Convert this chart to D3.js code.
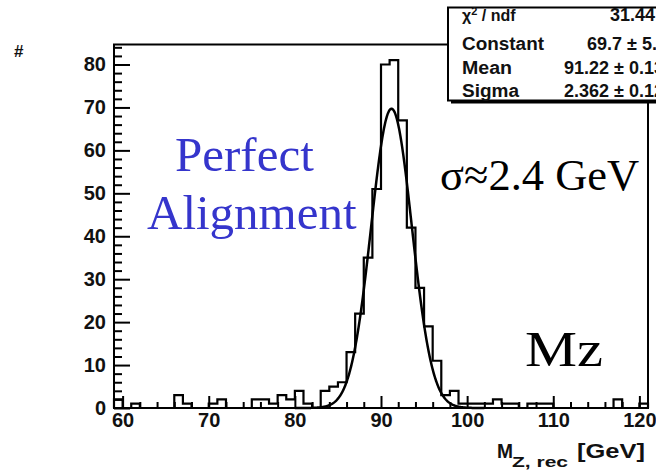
<!DOCTYPE html>
<html>
<head>
<meta charset="utf-8">
<script src="https://cdn.jsdelivr.net/npm/d3@7"></script>
<style>
  html, body { margin: 0; padding: 0; background: #fff; overflow: hidden; }
  svg { display: block; }
</style>
</head>
<body>
<svg id="chart" width="656" height="472"></svg>
<script>
// Reconstructed Z mass, 1 GeV bins starting at 59 GeV
const binStart = 59;
const binWidth = 1;
const counts = [
  2, 0, 1, 0, 0, 0, 0, 3, 1, 0,      // 59-68
  0, 1, 2, 0, 0, 0, 2, 2, 1, 3,      // 69-78
  2, 4, 1, 0, 4, 5, 6, 13, 22, 35,   // 79-88
  51, 80, 81, 67, 42, 28, 19, 11, 3, 4, // 89-98
  1, 1, 1, 1, 2, 1, 1, 0, 1, 1,      // 99-108
  1, 0, 0, 0, 0, 0, 0, 0, 2, 0,      // 109-118
  0, 1                               // 119-120
];

// Gaussian fit results
const fitConstant = 69.7;
const fitMean = 91.22;
const fitSigma = 2.362;
const fitRange = [80, 102];

// Axis ranges and tick labels
const xDomain = [59, 121];
const yDomain = [0, 84.66];
const xMajorTicks = [60, 70, 80, 90, 100, 110, 120];
const xMinorTicks = d3.range(60, 121, 2).filter(v => v % 10 !== 0);
const yMajorTicks = [0, 10, 20, 30, 40, 50, 60, 70, 80];
const yMinorTicks = d3.range(0, 85, 2).filter(v => v % 10 !== 0);

// Statistics box rows
const statNames = ["Constant", "Mean", "Sigma"];
const statValues = ["69.7 \u00b1 5.3", "91.22 \u00b1 0.13", "2.362 \u00b1 0.12"];
const chi2Value = "31.44 / 29";

const sans = "'Liberation Sans', Arial, Helvetica, sans-serif";
const serif = "'Liberation Serif', 'Times New Roman', Times, serif";

const svg = d3.select("#chart");
svg.append("rect").attr("width", 656).attr("height", 472).attr("fill", "#fff");

const frame = { left: 114, right: 648, top: 44.5, bottom: 408 };
const x = d3.scaleLinear().domain(xDomain).range([frame.left, frame.right]);
const y = d3.scaleLinear().domain(yDomain).range([frame.bottom, frame.top]);

// Histogram outline
const pts = [[binStart, 0]];
counts.forEach((c, i) => {
  const lo = binStart + i * binWidth;
  pts.push([lo, c], [lo + binWidth, c]);
});
pts.push([binStart + counts.length * binWidth, 0]);
const line = d3.line().x(d => x(d[0])).y(d => y(d[1]));
svg.append("path")
  .attr("d", line(pts))
  .attr("fill", "none")
  .attr("stroke", "#000")
  .attr("stroke-width", 2.2)
  .attr("stroke-linejoin", "miter");

// Fitted Gaussian
const gauss = v => fitConstant * Math.exp(-0.5 * Math.pow((v - fitMean) / fitSigma, 2));
const fitPts = d3.range(fitRange[0], fitRange[1] + 0.001, 0.05).map(v => [v, gauss(v)]);
svg.append("path")
  .attr("d", d3.line().x(d => x(d[0])).y(d => y(d[1])).curve(d3.curveLinear)(fitPts))
  .attr("fill", "none")
  .attr("stroke", "#000")
  .attr("stroke-width", 2.5);

// Frame
svg.append("rect")
  .attr("x", frame.left).attr("y", frame.top)
  .attr("width", frame.right - frame.left).attr("height", frame.bottom - frame.top)
  .attr("fill", "none").attr("stroke", "#000").attr("stroke-width", 2);

// Axes with inward ticks
function styleAxis(g) {
  g.select(".domain").remove();
  g.selectAll(".tick line").attr("stroke", "#000").attr("stroke-width", 2);
  g.selectAll(".tick text")
    .attr("fill", "#111")
    .style("font-family", sans)
    .style("font-size", "20px")
    .style("font-weight", "bold");
}

svg.append("g")
  .attr("transform", `translate(0,${frame.bottom})`)
  .call(d3.axisBottom(x).tickValues(xMinorTicks).tickSize(-6).tickFormat(""))
  .call(styleAxis);
svg.append("g")
  .attr("transform", `translate(0,${frame.bottom})`)
  .call(d3.axisBottom(x).tickValues(xMajorTicks).tickSize(-12).tickPadding(5).tickFormat(d3.format("d")))
  .call(styleAxis);

svg.append("g")
  .attr("transform", `translate(${frame.left},0)`)
  .call(d3.axisLeft(y).tickValues(yMinorTicks).tickSize(-8).tickFormat(""))
  .call(styleAxis);
svg.append("g")
  .attr("transform", `translate(${frame.left},0)`)
  .call(d3.axisLeft(y).tickValues(yMajorTicks).tickSize(-16).tickPadding(8).tickFormat(d3.format("d")))
  .call(styleAxis);

// Axis titles
svg.append("text")
  .attr("x", 14).attr("y", 57)
  .style("font-family", sans).style("font-size", "17px").style("font-weight", "bold")
  .attr("fill", "#111").text("#");

const xt = svg.append("g").style("font-family", sans).style("font-weight", "bold").attr("fill", "#111");
xt.append("text").attr("x", 497).attr("y", 458).style("font-size", "21px")
  .attr("textLength", 16).attr("lengthAdjust", "spacingAndGlyphs").text("M");
xt.append("text").attr("x", 512).attr("y", 467).style("font-size", "14px")
  .attr("textLength", 56).attr("lengthAdjust", "spacingAndGlyphs").text("Z, rec");
xt.append("text").attr("x", 577).attr("y", 458).style("font-size", "21px")
  .attr("textLength", 68).attr("lengthAdjust", "spacingAndGlyphs").text("[GeV]");

// Annotations
svg.append("text").attr("x", 175).attr("y", 171)
  .style("font-family", serif).style("font-size", "49px").attr("fill", "#3535cc")
  .text("Perfect");
svg.append("text").attr("x", 147).attr("y", 229)
  .style("font-family", serif).style("font-size", "49px").attr("fill", "#3535cc")
  .text("Alignment");
svg.append("text").attr("x", 440).attr("y", 190)
  .style("font-family", serif).style("font-size", "44.5px").attr("fill", "#000")
  .text("\u03c3\u22482.4 GeV");
svg.append("text").attr("x", 525).attr("y", 366)
  .style("font-family", serif).style("font-size", "50px").attr("fill", "#000")
  .attr("textLength", 78).attr("lengthAdjust", "spacingAndGlyphs")
  .text("Mz");

// Statistics box with drop shadow
const box = { x: 448, y: 7.5, w: 230, h: 93 };
svg.append("rect").attr("x", box.x + 3).attr("y", box.y + 3)
  .attr("width", box.w).attr("height", box.h).attr("fill", "#000");
svg.append("rect").attr("x", box.x).attr("y", box.y)
  .attr("width", box.w).attr("height", box.h)
  .attr("fill", "#fff").attr("stroke", "#000").attr("stroke-width", 2);

const st = svg.append("g").style("font-family", sans).style("font-weight", "bold").attr("fill", "#111");
const chi = st.append("text").attr("x", 462).attr("y", 21).style("font-size", "16px");
chi.append("tspan").text("\u03c7");
chi.append("tspan").attr("dy", -6).style("font-size", "11px").text("2");
chi.append("tspan").attr("dy", 6).text(" / ndf");
st.append("text").attr("x", 610).attr("y", 21).style("font-size", "18px").text(chi2Value);

const rowY = [50, 74, 97];
const nameW = [82, 50, 57];
const valueX = [587, 564, 564];
statNames.forEach((n, i) => {
  st.append("text").attr("x", 462).attr("y", rowY[i]).style("font-size", "18px")
    .attr("textLength", nameW[i]).attr("lengthAdjust", "spacingAndGlyphs").text(n);
  st.append("text").attr("x", valueX[i]).attr("y", rowY[i]).style("font-size", "18px")
    .text(statValues[i]);
});
</script>
</body>
</html>
